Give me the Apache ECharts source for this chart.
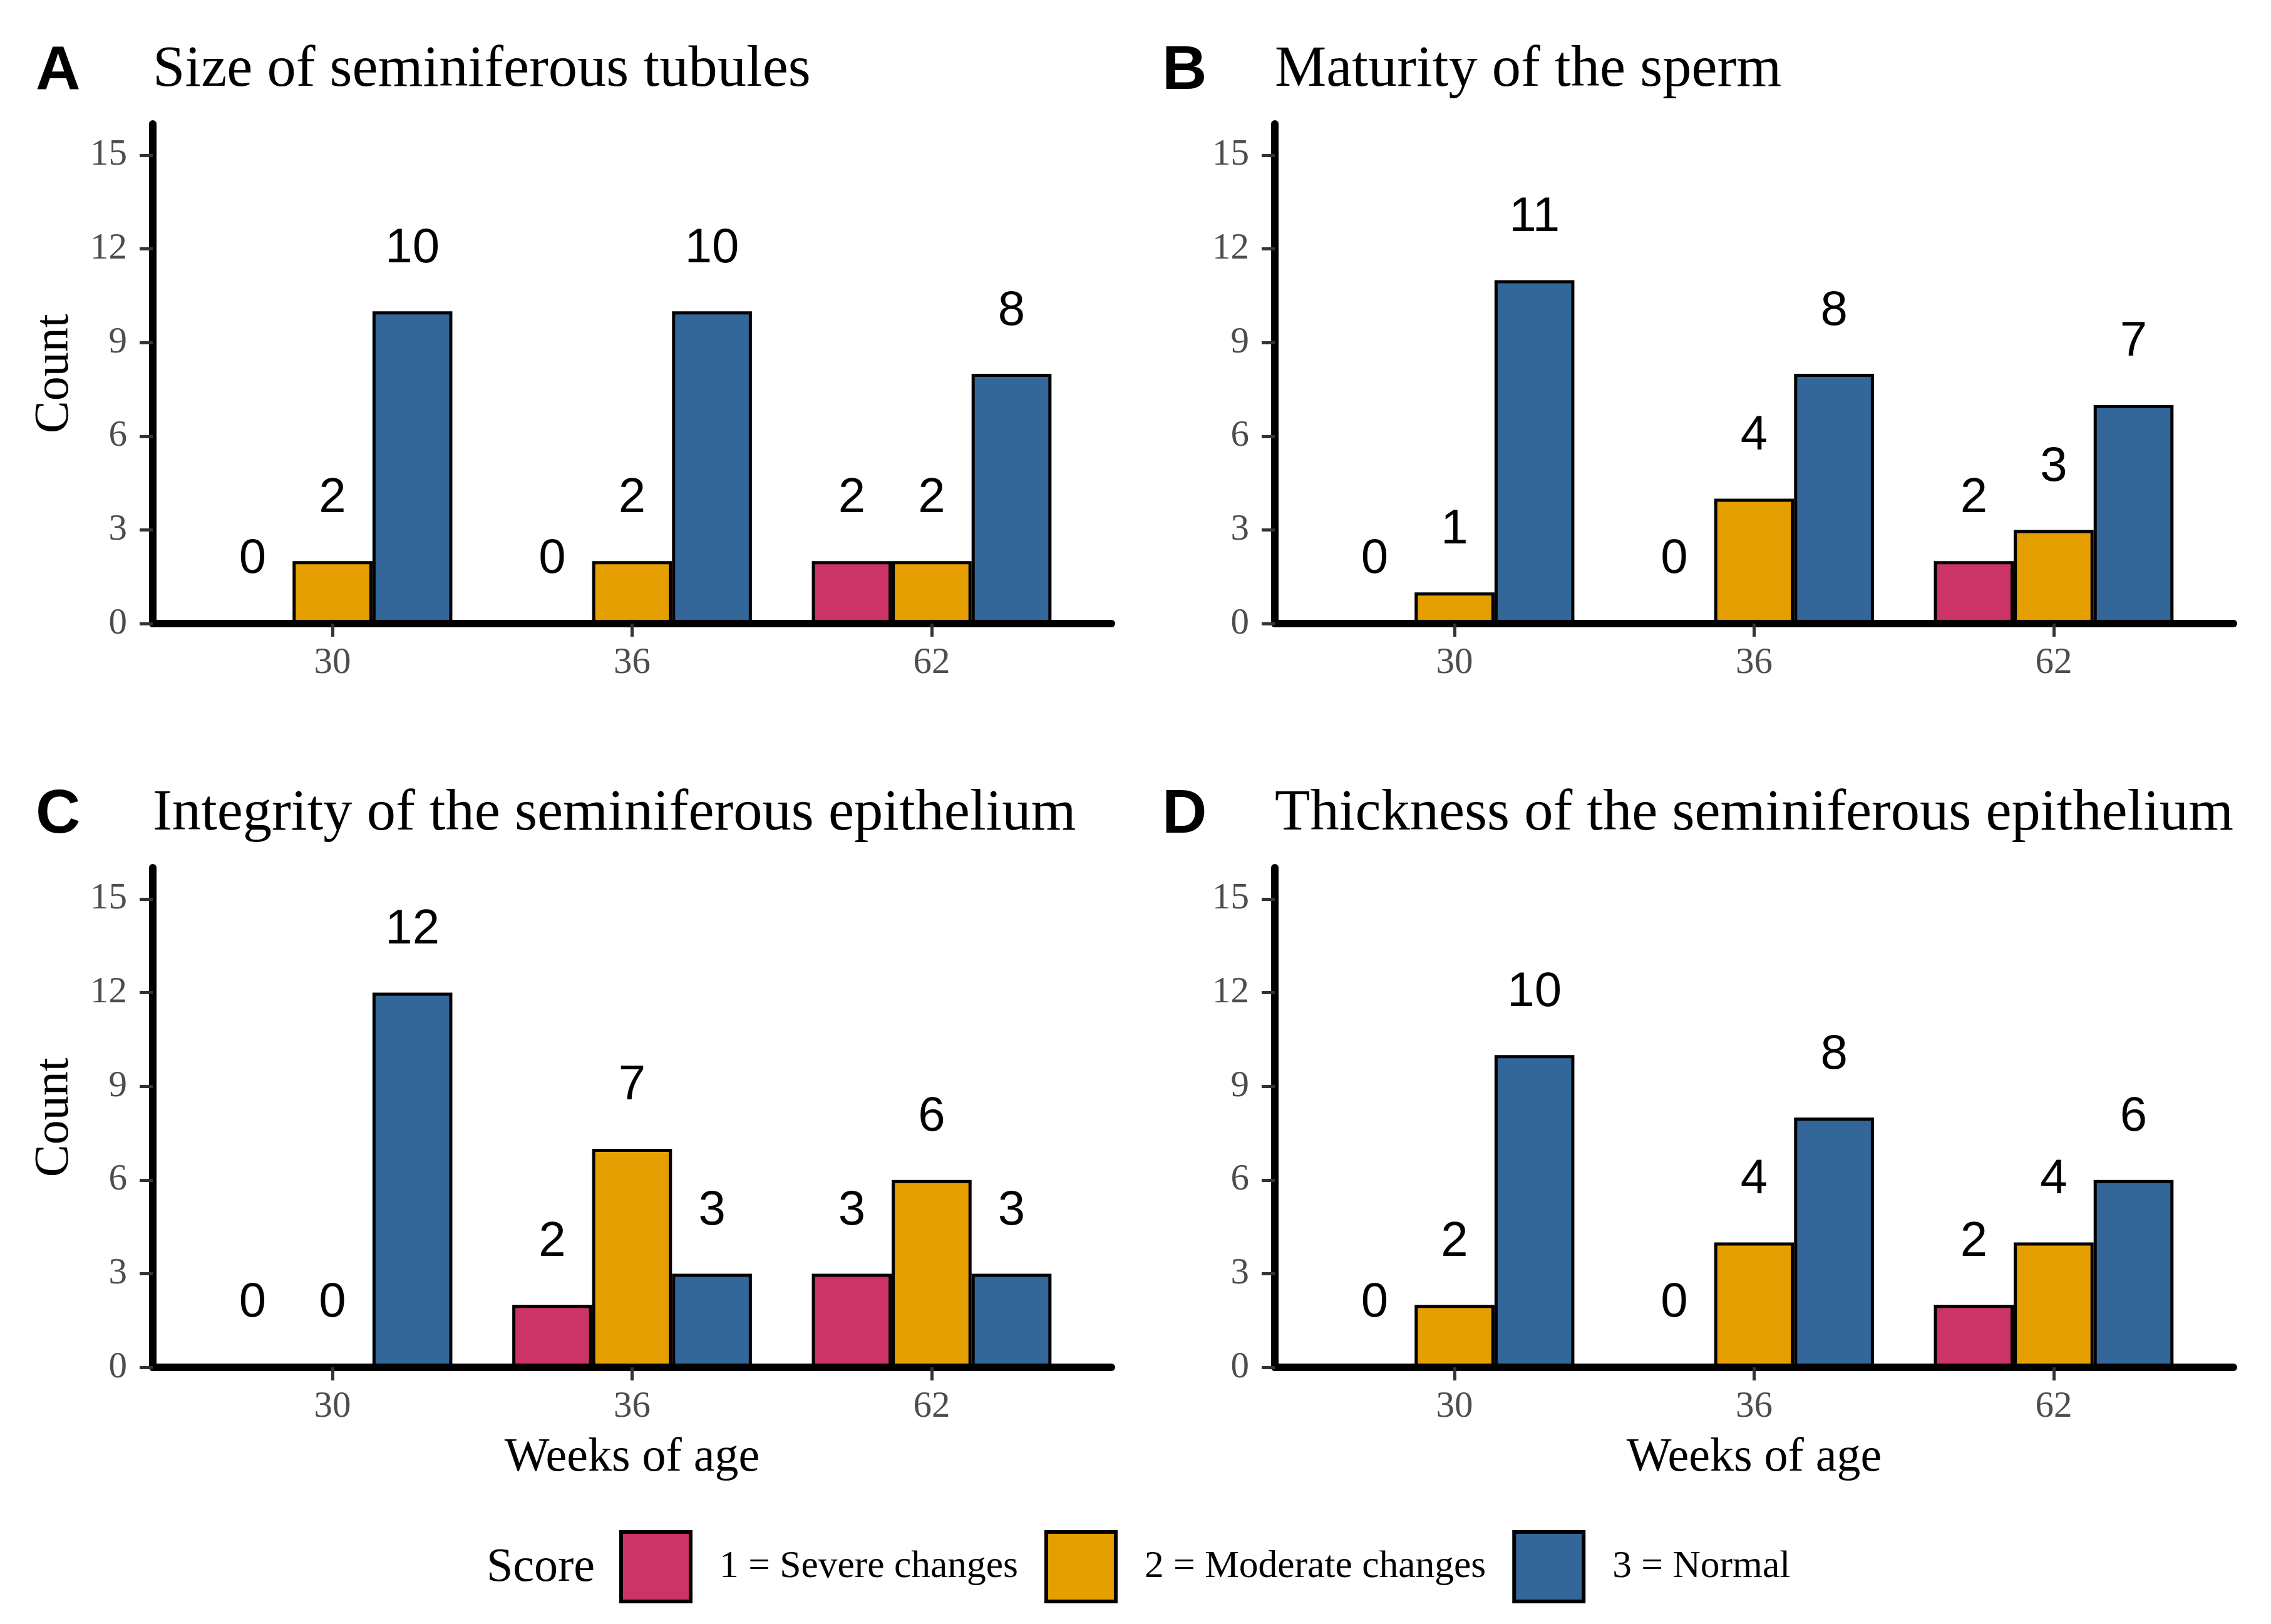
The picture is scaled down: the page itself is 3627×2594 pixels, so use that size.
<!DOCTYPE html>
<html><head><meta charset="utf-8">
<script src="https://cdn.jsdelivr.net/npm/echarts@6/dist/echarts.min.js"></script>
<style>html,body{margin:0;padding:0;background:#fff}#c{width:3627px;height:2594px}</style>
</head><body><div id="c"></div>
<script>
// ---- data ----
const weeks = ['30', '36', '62'];
const scoreNames = ['1 = Severe changes', '2 = Moderate changes', '3 = Normal'];
const panelLetters = ['A', 'B', 'C', 'D'];
const panelTitles = ['Size of seminiferous tubules', 'Maturity of the sperm',
  'Integrity of the seminiferous epithelium', 'Thickness of the seminiferous epithelium'];
const yTicks = [0, 3, 6, 9, 12, 15];

const sizeSevere = [0, 0, 2];
const sizeModerate = [2, 2, 2];
const sizeNormal = [10, 10, 8];

const maturitySevere = [0, 0, 2];
const maturityModerate = [1, 4, 3];
const maturityNormal = [11, 8, 7];

const integritySevere = [0, 2, 3];
const integrityModerate = [0, 7, 6];
const integrityNormal = [12, 3, 3];

const thicknessSevere = [0, 0, 2];
const thicknessModerate = [2, 4, 4];
const thicknessNormal = [10, 8, 6];

// ---- styling ----
const scoreColors = ['#CC3366', '#E69F00', '#336699'];
const panelData = [
  [sizeSevere, sizeModerate, sizeNormal],
  [maturitySevere, maturityModerate, maturityNormal],
  [integritySevere, integrityModerate, integrityNormal],
  [thicknessSevere, thicknessModerate, thicknessNormal]
];
const gridLefts = [244, 2036];
const letterLefts = [57, 1856];
const gridTops = [198, 1386];
const GW = 1531, GH = 798;
const SERIF = '"Liberation Serif", "Times New Roman", serif';
const SANS = '"Liberation Sans", Arial, sans-serif';

const grids = [], xAxes = [], yAxes = [], series = [], titles = [];
panelData.forEach((groups, p) => {
  const col = p % 2, row = Math.floor(p / 2);
  const left = gridLefts[col], top = gridTops[row];
  grids.push({ left: left, top: top, width: GW, height: GH, containLabel: false });
  titles.push({ text: panelLetters[p], left: letterLefts[col], top: top - 133, padding: 0,
    textStyle: { fontFamily: SANS, fontWeight: 'bold', fontSize: 99, lineHeight: 99, color: '#000' } });
  titles.push({ text: panelTitles[p], left: left, top: top - 132, padding: 0,
    textStyle: { fontFamily: SERIF, fontWeight: 'normal', fontSize: 92.5, lineHeight: 92.5, color: '#000' } });
  xAxes.push({
    type: 'value', gridIndex: p, min: 0.4, max: 3.6, z: 5,
    name: row === 1 ? 'Weeks of age' : '', nameLocation: 'middle', nameGap: 107,
    nameTextStyle: { fontFamily: SERIF, fontSize: 76, color: '#000' },
    axisLine: { show: true, onZero: false, lineStyle: { color: '#000', width: 12 } },
    axisTick: { show: true, length: 21, customValues: [1, 2, 3], lineStyle: { color: '#333', width: 5 } },
    axisLabel: { customValues: [1, 2, 3], margin: 34, formatter: v => weeks[Math.round(v) - 1] || '',
      fontFamily: SERIF, fontSize: 59, color: '#4D4D4D' },
    splitLine: { show: false }
  });
  yAxes.push({
    type: 'value', gridIndex: p, min: 0, max: 16, z: 5,
    name: col === 0 ? 'Count' : '', nameLocation: 'middle', nameGap: 117, nameRotate: 90,
    nameTextStyle: { fontFamily: SERIF, fontSize: 78, color: '#000' },
    axisLine: { show: true, lineStyle: { color: '#000', width: 12 } },
    axisTick: { show: true, length: 21, customValues: yTicks, lineStyle: { color: '#333', width: 5 } },
    axisLabel: { customValues: yTicks, margin: 41, fontFamily: SERIF, fontSize: 59, color: '#4D4D4D' },
    splitLine: { show: false }
  });
  groups.forEach((vals, s) => {
    series.push({
      type: 'bar', name: scoreNames[s], xAxisIndex: p, yAxisIndex: p,
      data: vals.map((v, i) => [i + 1, v]),
      barWidth: '26.667%', barGap: '0%',
      itemStyle: { color: scoreColors[s], borderColor: '#000', borderWidth: 5 },
      label: { show: true, position: 'top', distance: 61, fontFamily: SANS, fontSize: 78, color: '#000',
        formatter: prm => String(prm.value[1]) },
      emphasis: { disabled: true }
    });
  });
});
titles.push({ text: 'Score', left: 777, top: 2467, padding: 0,
  textStyle: { fontFamily: SERIF, fontWeight: 'normal', fontSize: 76, lineHeight: 76, color: '#000' } });

const chart = echarts.init(document.getElementById('c'), null, { renderer: 'canvas' });
chart.setOption({
  animation: false,
  backgroundColor: '#fff',
  title: titles,
  grid: grids,
  xAxis: xAxes,
  yAxis: yAxes,
  legend: {
    data: scoreNames, left: 989, top: 2444, orient: 'horizontal',
    itemWidth: 111, itemHeight: 111, itemGap: 42, icon: 'rect', padding: 0,
    itemStyle: { borderColor: '#000', borderWidth: 6 },
    textStyle: { fontFamily: SERIF, fontSize: 61.5, color: '#000', padding: [0, 0, 0, 41] }
  },
  series: series
});
</script></body></html>
